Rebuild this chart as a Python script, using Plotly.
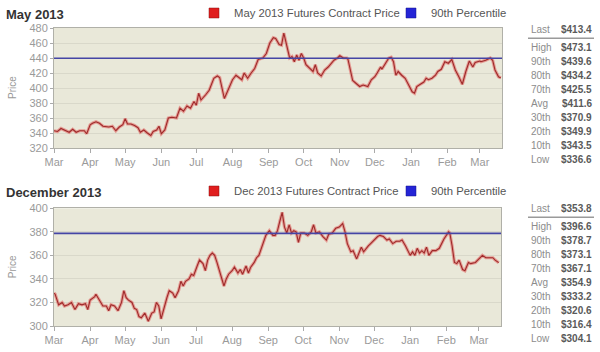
import plotly.graph_objects as go

# ---------------- data ----------------
may_dates = [
    "2012-03-01", "2012-03-04", "2012-03-07", "2012-03-11", "2012-03-14", "2012-03-17", "2012-03-20",
    "2012-03-23", "2012-03-27", "2012-03-29", "2012-04-01", "2012-04-03", "2012-04-06", "2012-04-09",
    "2012-04-12", "2012-04-17", "2012-04-20", "2012-04-23", "2012-04-26", "2012-04-29", "2012-05-01",
    "2012-05-03", "2012-05-06", "2012-05-09", "2012-05-12", "2012-05-14", "2012-05-17", "2012-05-20",
    "2012-05-23", "2012-05-25", "2012-05-28", "2012-05-30", "2012-06-01", "2012-06-04", "2012-06-07",
    "2012-06-10", "2012-06-14", "2012-06-17", "2012-06-20", "2012-06-23", "2012-06-26", "2012-06-29",
    "2012-07-01", "2012-07-03", "2012-07-05", "2012-07-09", "2012-07-12", "2012-07-16", "2012-07-19",
    "2012-07-21", "2012-07-23", "2012-07-25", "2012-07-27", "2012-07-30", "2012-08-01", "2012-08-04",
    "2012-08-07", "2012-08-09", "2012-08-11", "2012-08-14", "2012-08-17", "2012-08-20", "2012-08-23",
    "2012-08-27", "2012-08-30", "2012-09-02", "2012-09-05", "2012-09-07", "2012-09-10", "2012-09-12",
    "2012-09-14", "2012-09-16", "2012-09-18", "2012-09-19", "2012-09-21", "2012-09-23", "2012-09-25",
    "2012-09-27", "2012-09-29", "2012-10-01", "2012-10-03", "2012-10-06", "2012-10-09", "2012-10-11",
    "2012-10-13", "2012-10-16", "2012-10-19", "2012-10-22", "2012-10-25", "2012-10-27", "2012-10-30",
    "2012-11-01", "2012-11-04", "2012-11-07", "2012-11-08", "2012-11-10", "2012-11-12", "2012-11-15",
    "2012-11-18", "2012-11-21", "2012-11-25", "2012-11-28", "2012-12-01", "2012-12-03", "2012-12-06",
    "2012-12-07", "2012-12-10", "2012-12-13", "2012-12-15", "2012-12-17", "2012-12-19", "2012-12-21",
    "2012-12-24", "2012-12-27", "2012-12-30", "2013-01-02", "2013-01-04", "2013-01-06", "2013-01-09",
    "2013-01-12", "2013-01-14", "2013-01-16", "2013-01-19", "2013-01-22", "2013-01-24", "2013-01-27",
    "2013-01-30", "2013-02-02", "2013-02-05", "2013-02-08", "2013-02-11", "2013-02-14", "2013-02-17",
    "2013-02-20", "2013-02-23", "2013-02-25", "2013-03-01", "2013-03-02", "2013-03-06", "2013-03-10",
    "2013-03-12", "2013-03-14", "2013-03-17", "2013-03-19",
]
may_prices = [
    343, 342, 346, 343, 341, 345, 341,
    343, 343, 339, 351, 353, 355, 353,
    349, 348, 349, 343, 348, 351, 359,
    352, 352, 350, 347, 341, 344, 340,
    336.6, 342, 344, 349, 339, 344, 360,
    361, 360, 373, 369, 376, 373, 382,
    377, 393, 384, 391, 397, 413, 416,
    414, 400, 386, 393, 404, 411, 417,
    413, 411, 420, 413, 420, 426, 438,
    440, 446, 460, 467, 466, 458, 457,
    473.1, 460, 448, 440, 442, 435, 444,
    437, 446, 440, 431, 426, 422, 431,
    420, 416, 424, 428, 433, 437, 440,
    443, 440, 440, 438, 422, 410, 406,
    402, 404, 402, 411, 415, 420, 428,
    425, 433, 440, 441, 435, 417, 422,
    417, 413, 404, 395, 393, 402, 405,
    408, 413, 411, 413, 417, 422, 425,
    435, 433, 438, 424, 415, 405, 422,
    436, 428, 434, 436, 435, 437, 440,
    437, 424, 415, 413.4,
]

dec_dates = [
    "2012-03-01", "2012-03-02", "2012-03-05", "2012-03-08", "2012-03-10", "2012-03-13", "2012-03-16",
    "2012-03-19", "2012-03-22", "2012-03-25", "2012-03-28", "2012-03-30", "2012-04-01", "2012-04-05",
    "2012-04-06", "2012-04-09", "2012-04-12", "2012-04-15", "2012-04-17", "2012-04-19", "2012-04-22",
    "2012-04-25", "2012-04-28", "2012-04-30", "2012-05-02", "2012-05-04", "2012-05-07", "2012-05-09",
    "2012-05-11", "2012-05-13", "2012-05-15", "2012-05-18", "2012-05-21", "2012-05-24", "2012-05-26",
    "2012-05-28", "2012-05-30", "2012-06-01", "2012-06-03", "2012-06-06", "2012-06-08", "2012-06-11",
    "2012-06-13", "2012-06-16", "2012-06-18", "2012-06-20", "2012-06-22", "2012-06-25", "2012-06-27",
    "2012-06-29", "2012-07-02", "2012-07-04", "2012-07-07", "2012-07-09", "2012-07-11", "2012-07-13",
    "2012-07-15", "2012-07-17", "2012-07-19", "2012-07-21", "2012-07-23", "2012-07-25", "2012-07-27",
    "2012-07-29", "2012-08-01", "2012-08-03", "2012-08-06", "2012-08-08", "2012-08-10", "2012-08-13",
    "2012-08-15", "2012-08-17", "2012-08-20", "2012-08-22", "2012-08-24", "2012-08-27", "2012-08-30",
    "2012-09-02", "2012-09-05", "2012-09-07", "2012-09-09", "2012-09-11", "2012-09-13", "2012-09-15",
    "2012-09-17", "2012-09-19", "2012-09-21", "2012-09-23", "2012-09-25", "2012-09-27", "2012-09-29",
    "2012-10-02", "2012-10-05", "2012-10-08", "2012-10-10", "2012-10-12", "2012-10-15", "2012-10-18",
    "2012-10-21", "2012-10-23", "2012-10-26", "2012-10-29", "2012-11-01", "2012-11-04", "2012-11-06",
    "2012-11-08", "2012-11-11", "2012-11-13", "2012-11-16", "2012-11-18", "2012-11-20", "2012-11-22",
    "2012-11-24", "2012-11-26", "2012-11-28", "2012-12-01", "2012-12-04", "2012-12-06", "2012-12-09",
    "2012-12-12", "2012-12-14", "2012-12-17", "2012-12-20", "2012-12-23", "2012-12-25", "2012-12-28",
    "2013-01-01", "2013-01-03", "2013-01-05", "2013-01-07", "2013-01-09", "2013-01-11", "2013-01-13",
    "2013-01-15", "2013-01-17", "2013-01-20", "2013-01-23", "2013-01-26", "2013-01-28", "2013-01-30",
    "2013-02-03", "2013-02-04", "2013-02-06", "2013-02-08", "2013-02-10", "2013-02-12", "2013-02-15",
    "2013-02-17", "2013-02-20", "2013-02-22", "2013-02-26", "2013-03-01", "2013-03-04", "2013-03-07",
    "2013-03-10", "2013-03-13", "2013-03-15", "2013-03-18",
]
dec_prices = [
    328, 327, 318, 320, 317, 318, 320,
    314, 319, 318, 319, 314, 322, 325,
    327, 322, 317, 317, 313, 318, 317,
    313, 320, 330, 324, 322, 320, 315,
    314, 308, 307, 311, 304.1, 311, 312,
    320, 317, 306, 314, 324, 330, 328,
    324, 330, 338, 334, 338, 340, 344,
    343, 351, 356, 353, 347, 356, 360,
    362, 360, 354, 348, 340, 334, 340,
    344, 347, 350, 345, 348, 344, 351,
    345, 350, 354, 358, 360, 368, 377,
    381, 377, 377, 381, 389, 396.6, 384,
    379, 386, 379, 381, 380, 371, 379,
    379, 377, 380, 386, 379, 380, 376,
    373, 378, 379, 383, 384, 387, 380,
    370, 363, 364, 357, 362, 367, 363,
    366, 368, 370, 373, 376, 377, 376,
    373, 374, 370, 372, 372, 373, 368,
    360, 363, 360, 366, 362, 364, 362,
    367, 360, 364, 364, 366, 370, 374,
    380, 379, 368, 354, 353, 356, 348,
    347, 354, 353, 354, 357, 360, 358,
    358, 358, 356, 353.8,
]

chart_titles = ["May 2013", "December 2013"]
series_names = ["May 2013 Futures Contract Price", "Dec 2013 Futures Contract Price"]
pct90_name = "90th Percentile"
pct90_values = [439.6, 378.7]

stat_labels = ["Last", "High", "90th", "80th", "70th", "Avg", "30th", "20th", "10th", "Low"]
may_stats = [413.4, 473.1, 439.6, 434.2, 425.5, 411.6, 370.9, 349.9, 343.5, 336.6]
dec_stats = [353.8, 396.6, 378.7, 373.1, 367.1, 354.9, 333.2, 320.6, 316.4, 304.1]

y_ranges = [[320, 480], [300, 400]]
x_range = ["2012-03-01", "2013-03-20"]

# ---------------- styling ----------------
W, H = 600, 352
FONT = "Liberation Sans, Arial, sans-serif"
PLOT_BG = "#e9e8d9"
GRID = "#d9d8ca"
BORDER = "#b0b0a8"
TICK_TXT = "#9a9a9a"
RED_CORE = "#9e2a2a"
RED_GLOW = "rgba(226,80,80,0.5)"
BLUE = "#4545a5"
LEG_RED = "#e01e1e"
LEG_BLUE = "#2424d6"


def px(x):
    return x / W


def py(y):
    return 1 - y / H


# pixel layout of the two panels: (left, right, top, bottom)
panels = [(54, 502, 28, 148), (54, 501, 208.3, 326)]
title_y = [14, 192]
legend_y = [13, 191]
legend_text_x = [234, 431]   # where each legend label's text begins
table_top = [29.3, 208.3]
row_step = 14

fig = go.Figure()

all_dates = [may_dates, dec_dates]
all_prices = [may_prices, dec_prices]
all_stats = [may_stats, dec_stats]

annotations = []
shapes = []
legend_layouts = {}

for i in range(2):
    xa = "x" if i == 0 else "x2"
    ya = "y" if i == 0 else "y2"
    leg_red = "legend" if i == 0 else "legend3"
    leg_blue = "legend2" if i == 0 else "legend4"
    # glow + core line
    fig.add_trace(go.Scatter(
        x=all_dates[i], y=all_prices[i], mode="lines",
        line=dict(color=RED_GLOW, width=3.2), xaxis=xa, yaxis=ya,
        showlegend=False, hoverinfo="skip"))
    fig.add_trace(go.Scatter(
        x=all_dates[i], y=all_prices[i], mode="lines",
        line=dict(color=RED_CORE, width=1.1), xaxis=xa, yaxis=ya,
        showlegend=False, name=series_names[i]))
    # 90th percentile line spanning the axis
    fig.add_trace(go.Scatter(
        x=x_range, y=[pct90_values[i]] * 2, mode="lines",
        line=dict(color=BLUE, width=1.6), xaxis=xa, yaxis=ya,
        showlegend=False, name=pct90_name))
    # legend entries (square swatches)
    fig.add_trace(go.Scatter(
        x=[None], y=[None], mode="markers", name=series_names[i],
        marker=dict(symbol="square", size=10, color=LEG_RED,
                    line=dict(color="#8a1010", width=0.5)),
        xaxis=xa, yaxis=ya, legend=leg_red))
    fig.add_trace(go.Scatter(
        x=[None], y=[None], mode="markers", name=pct90_name,
        marker=dict(symbol="square", size=10, color=LEG_BLUE,
                    line=dict(color="#10108a", width=0.5)),
        xaxis=xa, yaxis=ya, legend=leg_blue))
    for key, tx in ((leg_red, legend_text_x[0]), (leg_blue, legend_text_x[1])):
        legend_layouts[key] = dict(
            orientation="h", x=px(tx - 40), xanchor="left",
            y=py(legend_y[i]), yanchor="middle",
            bgcolor="rgba(0,0,0,0)", font=dict(family=FONT, size=11.3, color="#555555"),
            itemwidth=30, tracegroupgap=0, itemclick=False, itemdoubleclick=False)

    l, r, t, b = panels[i]
    # chart title
    annotations.append(dict(
        text="<b>%s</b>" % chart_titles[i], x=px(4), y=py(title_y[i]),
        xref="paper", yref="paper", xanchor="left", yanchor="middle",
        showarrow=False, font=dict(family=FONT, size=13, color="#333333")))
    # y-axis label
    annotations.append(dict(
        text="Price", x=px(12), y=py((t + b) / 2), xref="paper", yref="paper",
        xanchor="center", yanchor="middle", textangle=-90, showarrow=False,
        font=dict(family=FONT, size=10, color=TICK_TXT)))
    # stats table
    for k, (lab, val) in enumerate(zip(stat_labels, all_stats[i])):
        yy = table_top[i] if k == 0 else table_top[i] + 18 + (k - 1) * row_step
        annotations.append(dict(
            text=lab, x=px(529), y=py(yy), xref="paper", yref="paper",
            xanchor="left", yanchor="middle", showarrow=False,
            font=dict(family=FONT, size=10, color="#8c8c8c")))
        annotations.append(dict(
            text="<b>$%.1f</b>" % val, x=px(594), y=py(yy), xref="paper", yref="paper",
            xanchor="right", yanchor="middle", showarrow=False,
            font=dict(family=FONT, size=10, color="#5a5a5a")))
    shapes.append(dict(
        type="line", xref="paper", yref="paper",
        x0=px(528), x1=px(594), y0=py(table_top[i] + 9), y1=py(table_top[i] + 9),
        line=dict(color="#9a9a9a", width=1.5)))

layout = dict(
    width=W, height=H,
    margin=dict(l=0, r=0, t=0, b=0, pad=0, autoexpand=False),
    paper_bgcolor="white", plot_bgcolor=PLOT_BG,
    font=dict(family=FONT, color=TICK_TXT),
    annotations=annotations, shapes=shapes,
    hovermode=False,
)
layout.update(legend_layouts)

for i in range(2):
    l, r, t, b = panels[i]
    sx = "" if i == 0 else "2"
    layout["xaxis" + sx] = dict(
        domain=[px(l), px(r)], anchor="y" + sx, type="date", range=x_range,
        tick0="2012-03-01", dtick="M1", tickformat="%b",
        ticks="outside", ticklen=4, tickcolor="#aaaaaa", tickwidth=1,
        showgrid=False, showline=True, mirror=True, linecolor=BORDER, linewidth=1,
        tickfont=dict(family=FONT, size=11, color=TICK_TXT), zeroline=False,
        automargin=False)
    layout["yaxis" + sx] = dict(
        domain=[py(b), py(t)], anchor="x" + sx, range=y_ranges[i], dtick=20,
        ticks="outside", ticklen=3, tickcolor="#aaaaaa",
        showgrid=True, gridcolor=GRID, gridwidth=1,
        showline=True, mirror=True, linecolor=BORDER, linewidth=1,
        tickfont=dict(family=FONT, size=11, color=TICK_TXT), zeroline=False,
        automargin=False)

fig.update_layout(**layout)
fig.write_html("out.html")
